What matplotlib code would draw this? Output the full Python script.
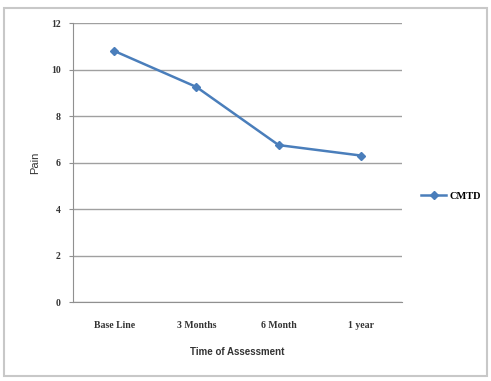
import matplotlib.pyplot as plt
from matplotlib.patches import Rectangle

# pain scores over follow-up
stages = ['Base Line', '3 Months', '6 Month', '1 year']
pain = [10.8, 9.25, 6.75, 6.3]
yticks = [0, 2, 4, 6, 8, 10, 12]

fig = plt.figure(figsize=(4.91, 3.81), dpi=100)
fig.patches.append(Rectangle((0.008, 0.012), 0.984, 0.968, transform=fig.transFigure,
                             fill=False, edgecolor='#c8c8c8', linewidth=1.5))

ax = fig.add_axes([0.1487, 0.2073, 0.67, 0.7323])
x = range(len(stages))
ax.plot(x, pain, color='#4a7ebb', linewidth=1.8, marker='D', markersize=4,
        label='CMTD')

ax.set_xlim(-0.5, len(stages) - 0.5)
ax.set_ylim(0, 12)
ax.set_yticks(yticks)
ax.set_xticks(list(x))
ax.set_xticklabels(stages, fontsize=7, family='Liberation Serif', fontweight='bold',
                   color='#333333')
ax.set_yticklabels([str(t) for t in yticks], fontsize=7, family='Liberation Serif',
                   fontweight='bold', color='#333333')
ax.grid(axis='y', color='#a0a0a0', linewidth=1)
ax.set_axisbelow(True)
for s in ['top', 'right']:
    ax.spines[s].set_visible(False)
for s in ['left', 'bottom']:
    ax.spines[s].set_color('#909090')
ax.tick_params(axis='y', length=3, color='#909090', pad=6)
ax.tick_params(axis='x', length=0, pad=14)

ax.set_ylabel('Pain', fontsize=8, family='Liberation Sans', color='#333333', labelpad=8)
ax.set_xlabel('Time of Assessment', fontsize=7, family='Liberation Sans',
              fontweight='bold', color='#333333', labelpad=12)

ax.legend(loc='center left', bbox_to_anchor=(1.03, 0.38), frameon=False,
          handlelength=2.4, handletextpad=0.3,
          prop={'family': 'Liberation Serif', 'size': 7.5, 'weight': 'bold'})

fig.savefig('out.png', dpi=100)
